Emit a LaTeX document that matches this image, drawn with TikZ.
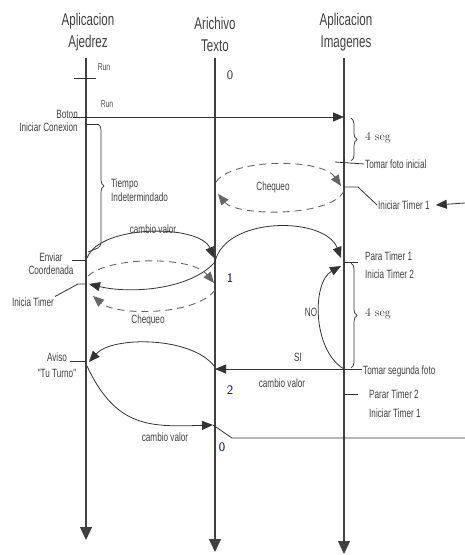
\documentclass[tikz,border=0pt]{standalone}
\usepackage{fontspec}
\newfontfamily\narrowsans[FakeStretch=0.68]{Liberation Sans}
\usetikzlibrary{arrows.meta,decorations.pathreplacing}

\begin{document}
\begin{tikzpicture}[x=1pt, y=-1pt,
	lifeline/.style={line width=1.3pt, draw=black!75, -{Triangle[length=13pt,width=12pt]}},
	msg/.style={line width=0.8pt, draw=black!80, -{Triangle[length=11pt,width=9pt]}},
	chk/.style={line width=0.9pt, draw=black!60, dash pattern=on 7pt off 5pt, -{Triangle[length=11pt,width=9pt]}},
	plain/.style={line width=0.8pt, draw=black!80},
	brc/.style={line width=0.7pt, draw=black!80, decorate, decoration={brace, amplitude=6pt}},
	head/.style={font=\narrowsans\fontsize{17}{22}\selectfont, text=black!75, align=center},
	lbl/.style={font=\narrowsans\fontsize{12}{13}\selectfont, text=black!75, align=center, inner sep=1pt},
	tiny/.style={font=\narrowsans\fontsize{10}{11}\selectfont, text=black!70, inner sep=1pt},
	sec/.style={font=\fontsize{12}{14}\selectfont, text=black!80, inner sep=1pt},
	num/.style={font=\sffamily\fontsize{13}{15}\selectfont, text=blue!45!black, inner sep=1pt}]
\useasboundingbox (0,0) rectangle (465,555);

% lifelines
\node[head] (hAj) at (88,32) {Aplicacion\\Ajedrez};
\node[head] (hTx) at (215,34) {Arichivo\\Texto};
\node[head] (hIm) at (346,32) {Aplicacion\\Imagenes};
\coordinate (aj) at (86,58); \coordinate (ajEnd) at (86,540);
\coordinate (tx) at (215,58); \coordinate (txEnd) at (215,552);
\coordinate (im) at (344,58); \coordinate (imEnd) at (344,554);
\draw[lifeline] (aj) -- (ajEnd);
\draw[lifeline] (tx) -- (txEnd);
\draw[lifeline] (im) -- (imEnd);

% start
\node[tiny] (run1) at (104,67) {Run};
\coordinate (runL) at (74,78); \coordinate (runR) at (96,78);
\draw[plain] (runL) -- (runR);
\node[num, text=black!80] (zeroA) at (230,75) {0};
\node[tiny] (run2) at (107,104) {Run};
\node[lbl, align=right, anchor=east] (boton) at (79,121) {Boton\\Iniciar Conexion};
\coordinate (botonL) at (73,117); \coordinate (botonI) at (344,117);
\draw[msg] (botonL) -- (botonI);

% first wait
\coordinate (brA1) at (351,118); \coordinate (brA2) at (351,161);
\draw[brc] (brA1) -- (brA2);
\node[sec, anchor=west] (seg1) at (364,138) {4 seg};
\coordinate (fotoL) at (335,162);
\node[lbl, anchor=west] (foto1) at (364,164) {Tomar foto inicial};
\draw[plain] (fotoL) -- (foto1.west);

\coordinate (brB1) at (98,124); \coordinate (brB2) at (98,248);
\draw[brc] (brB1) -- (brB2);
\draw[plain] (aj |- brB1) -- (brB1);
\draw[plain] (brB2) -- (88,252);
\node[lbl, align=left, anchor=west, font=\narrowsans\fontsize{12}{14}\selectfont] (tiempo) at (110,190) {Tiempo\\Indetermindado};

% chequeo texto / imagenes
\coordinate (chkT1) at (216,182); \coordinate (chkI1) at (341,186);
\coordinate (chkI2) at (344,191); \coordinate (chkT2) at (218,194);
\draw[chk] (chkT1) .. controls (232,158) and (322,158) .. (chkI1);
\draw[chk] (chkI2) .. controls (330,218) and (236,216) .. (chkT2);
\node[lbl] (chk1) at (273,187) {Chequeo};
\node[lbl, anchor=west] (timer1) at (377,205) {Iniciar Timer 1};
\coordinate (timerI) at (344,187); \coordinate (timerK) at (358,187);
\draw[plain] (timerI) -- (timerK) -- (timer1.west);
\coordinate (rightIn) at (465,203);
\draw[msg] (rightIn) -- ([xshift=5pt]timer1.east);

% enviar coordenada
\node[lbl] (enviar) at (51,264) {Enviar\\Coordenada};
\coordinate (envL) at (72,260); \coordinate (envA) at (86,260);
\draw[plain] (envL) -- (envA);
\coordinate (cvA) at (87,258); \coordinate (cvT) at (214,258);
\draw[msg] (cvA) .. controls (100,224) and (200,224) .. (cvT);
\node[lbl] (cv1) at (153,229) {cambio valor};
\coordinate (txUp) at (215,262); \coordinate (imUp) at (341,258);
\draw[msg] (txUp) .. controls (225,216) and (325,216) .. (imUp);
\coordinate (ajTm) at (89,284);
\draw[msg] (txUp) .. controls (190,290) and (130,294) .. (ajTm);
\node[lbl] (iniTm) at (33,302) {Inicia Timer};
\coordinate (iniK) at (78,284);
\draw[plain] (iniTm.north east) -- (iniK) -- (aj |- iniK);

% chequeo ajedrez / texto
\coordinate (chkA1) at (88,276); \coordinate (chkT3) at (214,283);
\coordinate (chkT4) at (215,290); \coordinate (chkA2) at (93,296);
\draw[chk] (chkA1) .. controls (110,256) and (192,256) .. (chkT3);
\draw[chk] (chkT4) .. controls (196,316) and (116,316) .. (chkA2);
\node[lbl] (chk2) at (148,320) {Chequeo};
\node[num] (one) at (230,278) {1};

% second wait
\node[lbl, align=left, anchor=west, font=\narrowsans\fontsize{12}{18}\selectfont] (para) at (364,265) {Para Timer 1\\Inicia Timer 2};
\coordinate (paraI) at (344,262);
\draw[plain] (paraI) -- (358,262);
\coordinate (noI) at (344,369); \coordinate (noTop) at (341,266);
\draw[msg] (noI) .. controls (312,350) and (312,282) .. (noTop);
\node[lbl] (no) at (311,312) {NO};
\coordinate (brC1) at (351,263); \coordinate (brC2) at (351,368);
\draw[brc] (brC1) -- (brC2);
\node[sec, anchor=west] (seg2) at (364,314) {4 seg};
\node[lbl, anchor=west] (foto2) at (362,371) {Tomar segunda foto};
\coordinate (siT) at (215,369);
\draw[msg] (foto2.west |- noI) -- (siT);
\node[lbl] (si) at (298,357) {SI};
\node[lbl] (cv2) at (282,383) {cambio valor};
\node[num] (two) at (230,390) {2};
\node[lbl, align=left, anchor=west, font=\narrowsans\fontsize{12}{19}\selectfont] (parar) at (368,404) {Parar Timer 2\\Iniciar Timer 1};
\coordinate (pararI) at (344,394);
\draw[plain] (pararI) -- (358,394);

% aviso
\node[lbl, font=\narrowsans\fontsize{12}{16}\selectfont] (aviso) at (57,365) {Aviso\\"Tu Turno"};
\coordinate (avL) at (70,361); \coordinate (avA) at (86,361);
\draw[plain] (avL) -- (avA);
\coordinate (avT) at (215,367); \coordinate (avAj) at (89,362);
\draw[msg] (avT) .. controls (192,336) and (112,336) .. (avAj);
\coordinate (ajLow) at (87,366); \coordinate (txLow) at (213,425);
\draw[msg] (ajLow) .. controls (116,428) and (150,427) .. (txLow);
\node[lbl] (cv3) at (165,437) {cambio valor};
\node[num] (zeroB) at (222,447) {0};
\coordinate (zK) at (232,438); \coordinate (zR) at (465,438);
\draw[plain] (txLow) -- (zK) -- (zR);
\end{tikzpicture}
\end{document}
